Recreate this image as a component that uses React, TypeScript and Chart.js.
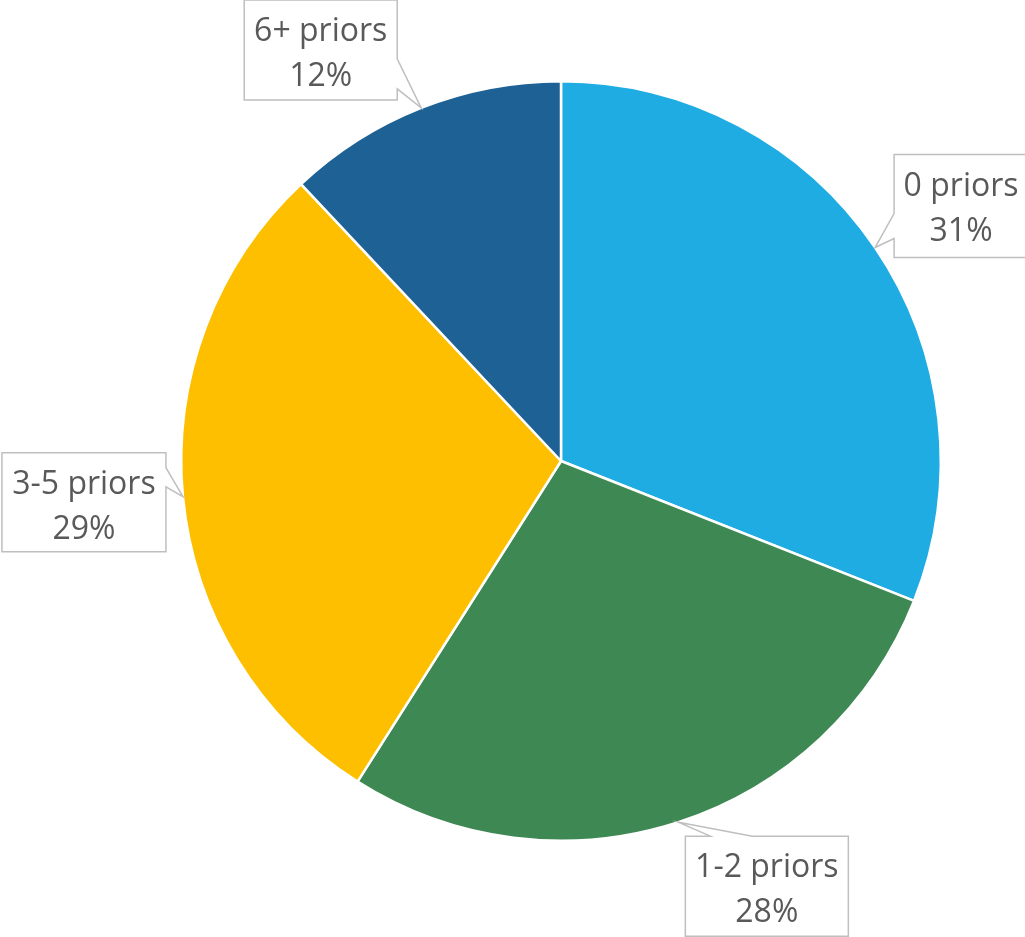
import React, { useEffect, useRef } from "react";
import { Chart, registerables } from "chart.js";

Chart.register(...registerables);

const categories = ["0 priors", "1-2 priors", "3-5 priors", "6+ priors"];
const values = [31, 28, 29, 12];
const colors = ["#1FACE3", "#3E8853", "#FDBF00", "#1D6195"];

// callout box placement relative to the arc tip (style only)
type Callout = { dx: number; dy: number; w: number; h: number; edge: "left" | "right" | "top"; b0: number; b1: number };
const callouts: Callout[] = [
  { dx: 19, dy: -93, w: 134, h: 103, edge: "left", b0: 59, b1: 84 },
  { dx: 7, dy: 14, w: 163, h: 100, edge: "top", b0: 25, b1: 67 },
  { dx: -181, dy: -44, w: 164, h: 99, edge: "right", b0: 15, b1: 34 },
  { dx: -177, dy: -108, w: 153, h: 100, edge: "right", b0: 59, b1: 89 },
];

const calloutPlugin = {
  id: "callouts",
  afterDatasetsDraw(chart: any) {
    const ctx = chart.ctx;
    const meta = chart.getDatasetMeta(0);
    const total = values.reduce((a, b) => a + b, 0);
    meta.data.forEach((arc: any, i: number) => {
      const { x, y, startAngle, endAngle, outerRadius } = arc.getProps(
        ["x", "y", "startAngle", "endAngle", "outerRadius"],
        true
      );
      const mid = (startAngle + endAngle) / 2;
      const tx = x + outerRadius * Math.cos(mid);
      const ty = y + outerRadius * Math.sin(mid);
      const c = callouts[i];
      const bx = tx + c.dx;
      const by = ty + c.dy;
      ctx.save();
      ctx.beginPath();
      if (c.edge === "left") {
        ctx.moveTo(bx, by);
        ctx.lineTo(bx + c.w, by);
        ctx.lineTo(bx + c.w, by + c.h);
        ctx.lineTo(bx, by + c.h);
        ctx.lineTo(bx, by + c.b1);
        ctx.lineTo(tx, ty);
        ctx.lineTo(bx, by + c.b0);
        ctx.closePath();
      } else if (c.edge === "right") {
        ctx.moveTo(bx, by);
        ctx.lineTo(bx + c.w, by);
        ctx.lineTo(bx + c.w, by + c.b0);
        ctx.lineTo(tx, ty);
        ctx.lineTo(bx + c.w, by + c.b1);
        ctx.lineTo(bx + c.w, by + c.h);
        ctx.lineTo(bx, by + c.h);
        ctx.closePath();
      } else {
        ctx.moveTo(bx, by);
        ctx.lineTo(bx + c.b0, by);
        ctx.lineTo(tx, ty);
        ctx.lineTo(bx + c.b1, by);
        ctx.lineTo(bx + c.w, by);
        ctx.lineTo(bx + c.w, by + c.h);
        ctx.lineTo(bx, by + c.h);
        ctx.closePath();
      }
      ctx.fillStyle = "#FFFFFF";
      ctx.fill();
      ctx.strokeStyle = "#BFBFBF";
      ctx.lineWidth = 1.5;
      ctx.stroke();
      ctx.fillStyle = "#595959";
      ctx.font = "32px 'Open Sans'";
      ctx.textAlign = "center";
      ctx.textBaseline = "alphabetic";
      const cx = bx + c.w / 2;
      ctx.fillText(categories[i], cx, by + 41);
      ctx.fillText(Math.round((values[i] / total) * 100) + "%", cx, by + 86);
      ctx.restore();
    });
  },
};

export default function App() {
  const ref = useRef<HTMLCanvasElement>(null);
  useEffect(() => {
    document.body.style.margin = "0";
    const chart = new Chart(ref.current!, {
      type: "pie",
      data: {
        labels: categories,
        datasets: [
          {
            data: values,
            backgroundColor: colors,
            borderColor: "#FFFFFF",
            borderWidth: 2.5,
          },
        ],
      },
      options: {
        responsive: false,
        animation: false,
        layout: { padding: { top: 80, bottom: 95, left: 180, right: 83 } },
        plugins: { legend: { display: false }, tooltip: { enabled: false } },
      },
      plugins: [calloutPlugin],
    });
    return () => chart.destroy();
  }, []);
  return (
    <div style={{ width: 1025, height: 937, background: "#fff" }}>
      <canvas ref={ref} width={1025} height={937} />
    </div>
  );
}
